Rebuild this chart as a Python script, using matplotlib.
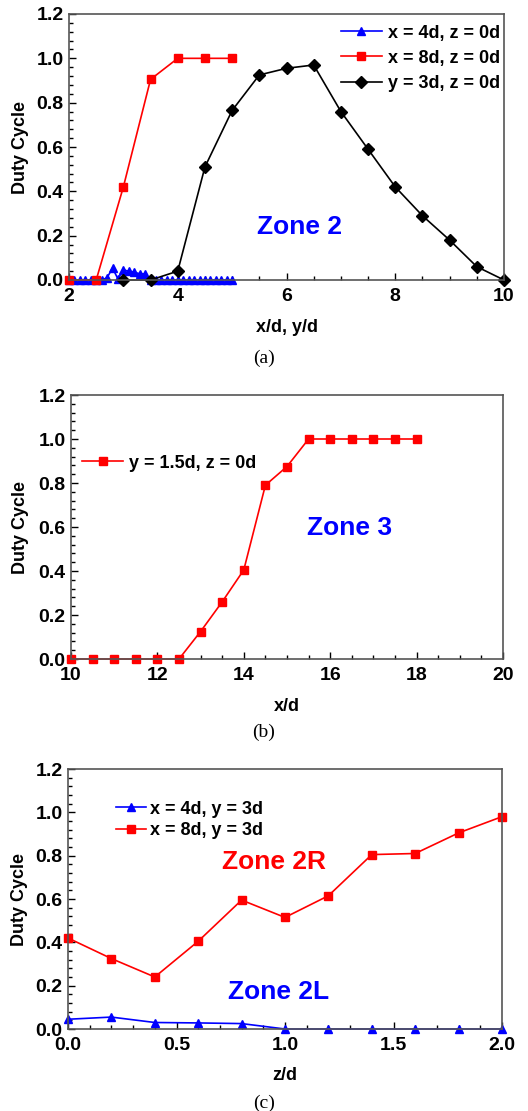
import numpy as np
import matplotlib.pyplot as plt
from matplotlib.ticker import MultipleLocator

plt.rcParams['font.family'] = ['Liberation Sans', 'DejaVu Sans']
plt.rcParams['font.weight'] = 'bold'

# panel (a)
a_blue_x = [2.0, 2.1, 2.2, 2.3, 2.4, 2.5, 2.6, 2.7, 2.8, 2.9, 3.0, 3.1, 3.2, 3.3, 3.4,
            3.5, 3.6, 3.7, 3.8, 3.9, 4.0, 4.1, 4.2, 4.3, 4.4, 4.5, 4.6, 4.7, 4.8, 4.9, 5.0]
a_blue_y = [0, 0, 0, 0, 0, 0, 0, 0.01, 0.054, 0.005, 0.045, 0.04, 0.035, 0.028, 0.028,
            0, 0, 0, 0, 0, 0, 0, 0, 0, 0, 0, 0, 0, 0, 0, 0]
a_red_x = [2.0, 2.5, 3.0, 3.5, 4.0, 4.5, 5.0]
a_red_y = [0, 0, 0.42, 0.905, 1.0, 1.0, 1.0]
a_blk_x = [3.0, 3.5, 4.0, 4.5, 5.0, 5.5, 6.0, 6.5, 7.0, 7.5, 8.0, 8.5, 9.0, 9.5, 10.0]
a_blk_y = [0, 0, 0.04, 0.51, 0.765, 0.925, 0.955, 0.97, 0.76, 0.59, 0.42, 0.29, 0.18, 0.06, 0]

# panel (b)
b_x = [10, 10.5, 11, 11.5, 12, 12.5, 13, 13.5, 14, 14.5, 15, 15.5, 16, 16.5, 17, 17.5, 18]
b_y = [0, 0, 0, 0, 0, 0, 0.125, 0.26, 0.405, 0.79, 0.875, 1.0, 1.0, 1.0, 1.0, 1.0, 1.0]

# panel (c)
c_x = [0.0, 0.2, 0.4, 0.6, 0.8, 1.0, 1.2, 1.4, 1.6, 1.8, 2.0]
c_blue_y = [0.045, 0.055, 0.03, 0.028, 0.025, 0, 0, 0, 0, 0, 0]
c_red_y = [0.42, 0.325, 0.24, 0.405, 0.595, 0.515, 0.615, 0.805, 0.81, 0.905, 0.98]

fig = plt.figure(figsize=(5.28, 11.11), dpi=100)
H = 1111.0
W = 528.0


def make_ax(l, r, t, b):
    return fig.add_axes([l / W, 1 - b / H, (r - l) / W, (b - t) / H])


def style(ax, xlim, xmaj, xmin, xlabel):
    ax.set_xlim(xlim)
    ax.set_ylim(0, 1.2)
    ax.xaxis.set_major_locator(MultipleLocator(xmaj))
    ax.xaxis.set_minor_locator(MultipleLocator(xmin))
    ax.yaxis.set_major_locator(MultipleLocator(0.2))
    ax.yaxis.set_minor_locator(MultipleLocator(0.04))
    ax.tick_params(which='both', direction='in', top=False, right=False,
                   labelsize=14, width=1)
    ax.tick_params(axis='x', pad=6)
    ax.tick_params(axis='y', pad=4)
    ax.tick_params(which='major', length=5)
    ax.tick_params(which='minor', length=3)
    ax.yaxis.set_major_formatter(plt.FuncFormatter(lambda v, p: '%.1f' % v))
    for s in ax.spines.values():
        s.set_color('#555555')
        s.set_linewidth(1.2)
    ax.set_ylabel('Duty Cycle', fontsize=13, fontweight='bold')
    ax.set_xlabel(xlabel, fontsize=13, fontweight='bold')


# (a)
ax1 = make_ax(69, 504, 14, 280)
ax1.plot(a_blue_x, a_blue_y, color='blue', marker='^', ms=6, lw=1.2,
         label='x = 4d, z = 0d', clip_on=False)
ax1.plot(a_red_x, a_red_y, color='red', marker='s', ms=6, lw=1.2,
         label='x = 8d, z = 0d', clip_on=False)
ax1.plot(a_blk_x, a_blk_y, color='black', marker='D', ms=6.5, lw=1.2,
         label='y = 3d, z = 0d', clip_on=False)
style(ax1, (2, 10), 2, 0.5, 'x/d, y/d')
ax1.xaxis.set_major_formatter(plt.FuncFormatter(lambda v, p: '%d' % v))
ax1.legend(loc='upper right', bbox_to_anchor=(0.99, 0.96), frameon=False,
           fontsize=13, handlelength=2.3, handletextpad=0.3, labelspacing=0.45,
           borderpad=0.0, borderaxespad=0.0)
ax1.text(5.46, 0.24, 'Zone 2', color='blue', fontsize=19, fontweight='bold',
         va='center')
ax1.yaxis.set_label_coords(-0.092, 0.5)
ax1.xaxis.set_label_coords(0.5, -0.148)

# (b)
ax2 = make_ax(71, 503, 395, 659)
ax2.plot(b_x, b_y, color='red', marker='s', ms=6, lw=1.2,
         label='y = 1.5d, z = 0d', clip_on=False)
style(ax2, (10, 20), 2, 0.5, 'x/d')
ax2.xaxis.set_major_formatter(plt.FuncFormatter(lambda v, p: '%d' % v))
ax2.legend(loc='center left', bbox_to_anchor=(0.025, 0.742), frameon=False,
           fontsize=13, handlelength=2.3, handletextpad=0.3, borderpad=0.0,
           borderaxespad=0.0)
ax2.text(15.46, 0.595, 'Zone 3', color='blue', fontsize=19, fontweight='bold',
         va='center')
ax2.yaxis.set_label_coords(-0.097, 0.5)
ax2.xaxis.set_label_coords(0.5, -0.148)

# (c)
ax3 = make_ax(68, 502, 769, 1029)
ax3.plot(c_x, c_blue_y, color='blue', marker='^', ms=5.5, lw=1.2,
         label='x = 4d, y = 3d', clip_on=False)
ax3.plot(c_x, c_red_y, color='red', marker='s', ms=5.5, lw=1.2,
         label='x = 8d, y = 3d', clip_on=False)
style(ax3, (0, 2), 0.5, 0.1, 'z/d')
ax3.legend(loc='upper left', bbox_to_anchor=(0.11, 0.878), frameon=False,
           fontsize=13, handlelength=1.7, handletextpad=0.2, labelspacing=0.25,
           borderpad=0.0, borderaxespad=0.0)
ax3.text(0.71, 0.77, 'Zone 2R', color='red', fontsize=19, fontweight='bold',
         va='center')
ax3.text(0.737, 0.17, 'Zone 2L', color='blue', fontsize=19, fontweight='bold',
         va='center')
ax3.yaxis.set_label_coords(-0.092, 0.5)
ax3.xaxis.set_label_coords(0.5, -0.148)

for y, lab in [(358, '(a)'), (732, '(b)'), (1103, '(c)')]:
    fig.text(0.5, 1 - y / H, lab, ha='center', va='center', fontsize=14,
             family=['Liberation Serif', 'DejaVu Serif'], fontweight='normal')

fig.savefig('out.png', dpi=100)
